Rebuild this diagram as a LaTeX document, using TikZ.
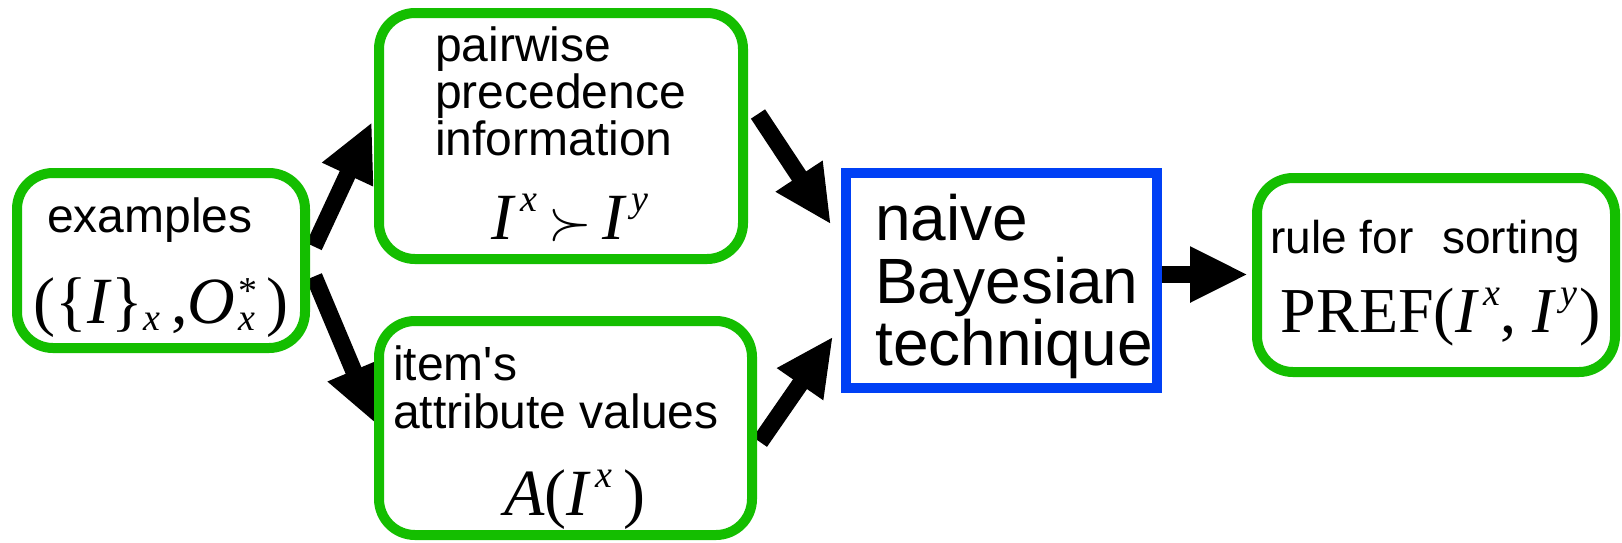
\RequirePackage{fix-cm}
\documentclass[tikz,border=0pt]{standalone}
\usepackage{fontspec}
\setmainfont{Liberation Sans}[Ligatures=TeXOff]
\newfontfamily\tms{Liberation Serif}
\usetikzlibrary{arrows.meta,calc,backgrounds}
\definecolor{gboxc}{RGB}{20,190,0}
\definecolor{bboxc}{RGB}{0,64,245}
\newcommand{\msup}[1]{\kern0.07em\raisebox{0.41em}{\fontsize{38}{38}\selectfont #1}}
\newcommand{\mstar}[1]{\raisebox{0.30em}{\fontsize{38}{38}\selectfont #1}}
\newcommand{\msub}[1]{\raisebox{-0.11em}{\fontsize{38}{38}\selectfont #1}}
\begin{document}
\begin{tikzpicture}[x=1pt,y=-1pt,
  gbox/.style={draw=gboxc, line width=10pt, rounded corners=36pt, fill=white, inner sep=0pt},
  bbox/.style={draw=bboxc, line width=10pt, fill=white, inner sep=0pt},
  arr/.style={line width=17pt, -{Triangle[length=58pt,width=52pt]}},
  lab/.style={inner sep=0pt, font=\fontsize{48}{48}\selectfont},
  big/.style={inner sep=0pt, font=\fontsize{64}{64}\selectfont},
  small/.style={inner sep=0pt, font=\fontsize{46}{46}\selectfont},
  mth/.style={inner sep=0pt, font=\tms\fontsize{66}{66}\selectfont}]
\useasboundingbox (0,0) rectangle (1622,542);

% boxes
\node[gbox, minimum width=288pt, minimum height=175pt] (ex) at (161,260.5) {};
\node[gbox, minimum width=364pt, minimum height=246pt] (pw) at (561,136) {};
\node[gbox, minimum width=373pt, minimum height=214pt] (it) at (565.5,428) {};
\node[bbox, minimum width=311pt, minimum height=215pt] (nb) at (1001.5,280.5) {};
\node[gbox, minimum width=358pt, minimum height=194pt] (rs) at (1436,275) {};

% texts
\node[lab, anchor=base] (t1) at (150,232) {examples};
\node[mth, anchor=base] (m1) at (161,323) {(\{\textit{I}\}\msub{\textit{x}}\,,\textit{O}\kern0.05em\rlap{\mstar{*}}\msub{\textit{x}}\,)};

\node[lab, anchor=base west] (t2a) at (435,61) {pairwise};
\node[lab, anchor=base west] (t2b) at (435,108) {precedence};
\node[lab, anchor=base west] (t2c) at (435,155) {information};
\node[mth, anchor=base] (m2) at (570,239) {\textit{I}\msup{\textit{x}}\,{\fontsize{56}{56}\selectfont$\succ$}\,\textit{I}\msup{\textit{y}}};

\node[lab, anchor=base west] (t3a) at (393,380) {item's};
\node[lab, anchor=base west] (t3b) at (393,428) {attribute values};
\node[mth, anchor=base] (m3) at (575,515) {\textit{A}(\textit{I}\msup{\textit{x}}\,)};

\node[big, anchor=base west] (t4a) at (875,240) {naive};
\node[big, anchor=base west] (t4b) at (875,303) {Bayesian};
\node[big, anchor=base west] (t4c) at (875,365) {technique};

\node[small, anchor=base west] (t5) at (1270,253) {rule for\hspace{0.35em} sorting};
\node[mth, anchor=base, font=\tms\fontsize{64}{64}\selectfont] (m5) at (1441,332) {PREF(\textit{I}\msup{\textit{x}}, \textit{I}\msup{\textit{y}}\kern0.04em)};

% connectors
\begin{pgfonlayer}{background}
\draw[arr] ($(ex.east)+(4,-14)$) -- ($(pw.west)+(-2,-14)$);
\draw[arr] ($(ex.east)+(4,16)$) -- ($(it.west)+(2,-4)$);
\draw[arr] ($(pw.east)+(10,-22)$) -- ($(nb.west)+(-10,-56)$);
\draw[arr] ($(it.east)+(3,14)$) -- ($(nb.west)+(-8,56)$);
\draw[arr] ($(nb.east)+(0,-6)$) -- ($(rs.west)+(-4,-0.5)$);
\end{pgfonlayer}
\end{tikzpicture}
\end{document}
